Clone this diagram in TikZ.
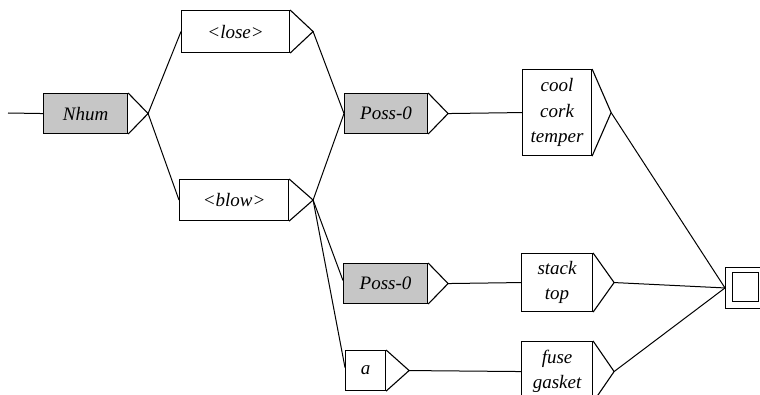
\documentclass[tikz,border=0pt]{standalone}
\usepackage{fontspec}
\setmainfont{Liberation Serif}
\usetikzlibrary{calc}
\tikzset{
  box/.style={draw=black, line width=1.1pt, fill=white, anchor=north west, inner sep=0pt,
    font=\fontsize{19}{25.5}\selectfont\itshape, align=center},
  shaded/.style={box, fill=gray!45},
  tri/.style={draw=black, line width=1.1pt, line join=miter},
  wire/.style={draw=black, line width=1pt},
}
% \gbox{name}{x1}{y1}{x2}{y2}{apex x}{style}{text}
\newcommand\gbox[8]{%
  \node[#7, minimum width=#4pt-#2pt, minimum height=#5pt-#3pt] (#1) at (#2,#3) {#8};
  \coordinate (#1-o) at ($(#1.east)+(#6pt-#4pt,0)$);
  \draw[tri] (#1.north east) -- (#1-o) -- (#1.south east);
}
\begin{document}
\begin{tikzpicture}[x=1pt, y=-1pt]
  \useasboundingbox (0,0) rectangle (760,395);
  \fill[white] (0,0) rectangle (760,395);

  \coordinate (in) at (8,113);
  \gbox{nhum}{43}{93}{127}{133}{147}{shaded}{Nhum}
  \gbox{lose}{181}{10}{289}{52}{312}{box}{<lose>}
  \gbox{blow}{179}{179}{288}{220}{312}{box}{<blow>}
  \gbox{possa}{344}{93}{427}{133}{447}{shaded}{Poss-0}
  \gbox{possb}{343}{263}{427}{303}{447}{shaded}{Poss-0}
  \gbox{a}{345}{350}{385}{390}{408}{box}{a}
  \gbox{cool}{522}{69}{591}{155}{610}{box}{cool\\cork\\temper}
  \gbox{stack}{521}{253}{592}{311}{613}{box}{stack\\top}
  \gbox{fuse}{521}{341}{592}{401}{613}{box}{fuse\\gasket}

  % final state
  \node[draw=black, line width=0.9pt, minimum width=40pt, minimum height=41pt,
        inner sep=0pt, anchor=north west] (fin) at (725,267) {};
  \node[draw=black, line width=1.4pt, minimum width=26pt, minimum height=29pt,
        inner sep=0pt, anchor=north west] (finin) at (732,272) {};

  % transitions
  \draw[wire] (in) -- (nhum.west);
  \draw[wire] (nhum-o) -- (lose.west);
  \draw[wire] (nhum-o) -- (blow.west);
  \draw[wire] (lose-o) -- (possa.west);
  \draw[wire] (blow-o) -- (possa.west);
  \draw[wire] (blow-o) -- ($(possb.west)+(0,-3)$);
  \draw[wire] (blow-o) -- ($(a.west)+(0,-3)$);
  \draw[wire] (possa-o) -- (cool.west);
  \draw[wire] (possb-o) -- (stack.west);
  \draw[wire] (a-o) -- (fuse.west);
  \draw[wire] (cool-o) -- (fin.west);
  \draw[wire] (stack-o) -- (fin.west);
  \draw[wire] (fuse-o) -- (fin.west);
\end{tikzpicture}
\end{document}
